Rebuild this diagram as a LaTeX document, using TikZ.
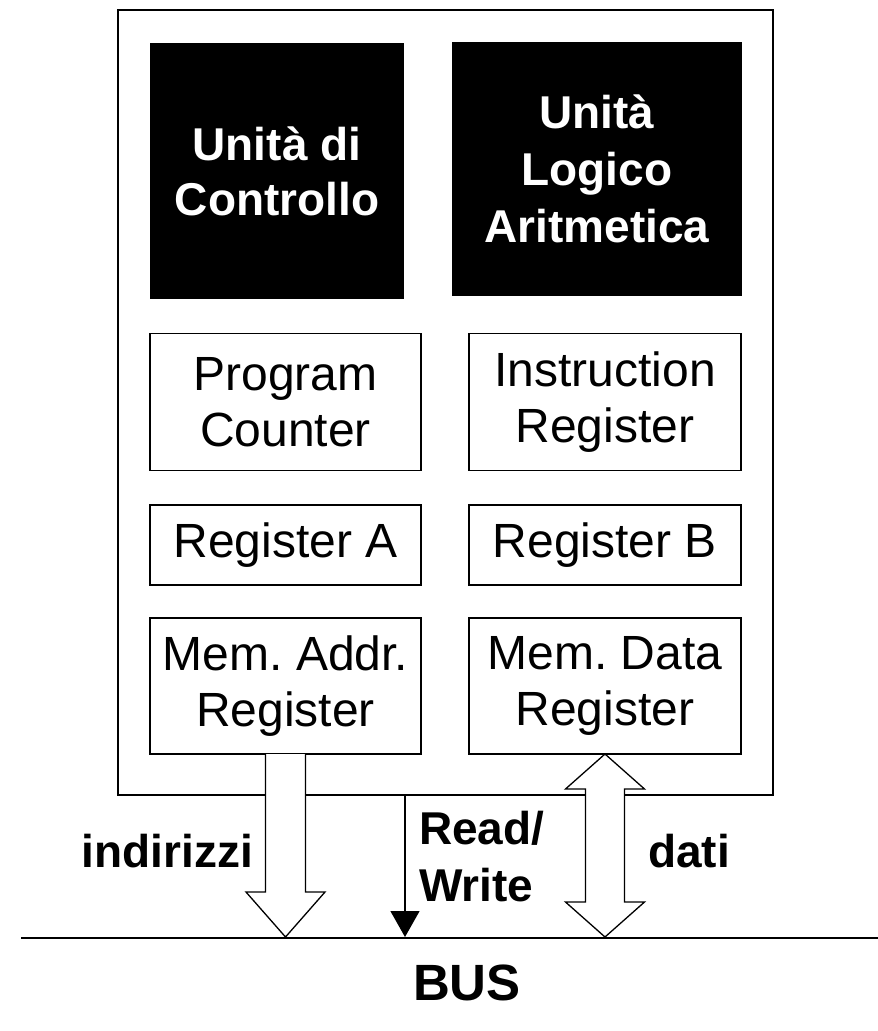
\documentclass[tikz,border=0pt]{standalone}
\usepackage{fontspec}
\setmainfont{Liberation Sans}
\usetikzlibrary{arrows.meta,calc}
\frenchspacing
\begin{document}
\begin{tikzpicture}[x=1pt,y=-1pt,
  every node/.style={inner sep=0pt, outer sep=0pt},
  lbl/.style={font=\frenchspacing\fontsize{48}{56}\selectfont, align=center},
  unitbox/.style={fill=black, text=white, font=\bfseries\fontsize{46}{57}\selectfont, align=center},
  regbox/.style={draw, line width=1.3pt, lbl},
  boldlbl/.style={font=\bfseries\fontsize{46}{57}\selectfont},
  blockarrow/.style={draw, fill=white, line width=1.3pt, line join=miter},
  thinline/.style={line width=1.3pt},
]
\useasboundingbox (0,0) rectangle (878,1031);
% CPU outline
\node[draw, thinline, minimum width=655pt, minimum height=785pt] (cpu) at (445.5,402.5) {};
% units
\node[unitbox, font=\bfseries\fontsize{46}{55}\selectfont, minimum width=254pt, minimum height=256pt] (cu) at (277,171) {Unità di\\Controllo};
\node[unitbox, minimum width=290pt, minimum height=254pt] (alu) at (597,169) {Unità\\Logico\\Aritmetica};
% registers
\node[regbox, minimum width=271pt, minimum height=137pt] (pc) at (285.5,402) {Program\\Counter};
\node[regbox, minimum width=272pt, minimum height=137pt] (ir) at (605,402) {Instruction\\Register};
\node[regbox, minimum width=271pt, minimum height=80pt] (ra) at (285.5,545) {Register A};
\node[regbox, minimum width=272pt, minimum height=80pt] (rb) at (605,545) {Register B};
\node[regbox, minimum width=271pt, minimum height=136pt] (mar) at (285.5,686) {Mem. Addr.\\Register};
\node[regbox, minimum width=272pt, minimum height=136pt] (mdr) at (605,686) {Mem. Data\\Register};
% bus
\coordinate (busL) at (21,938);
\coordinate (busR) at (878,938);
\draw[line width=2pt] (busL) -- (busR);
\node[font=\bfseries\fontsize{51}{60}\selectfont, anchor=base] (buslbl) at (467,1000) {BUS};
% address arrow
\path (mar.south) ++(0,183) coordinate (addrtip);
\filldraw[blockarrow] ($(mar.south)+(-20,0)$) -- ($(addrtip)+(-20,-45)$) -- ($(addrtip)+(-39.5,-45)$)
  -- (addrtip) -- ($(addrtip)+(39.5,-45)$) -- ($(addrtip)+(20,-45)$) -- ($(mar.south)+(20,0)$);
% data arrow
\path (mdr.south) ++(0,183) coordinate (datatip);
\filldraw[blockarrow] (mdr.south) -- ($(mdr.south)+(39.5,35)$) -- ($(mdr.south)+(19.5,35)$)
  -- ($(datatip)+(19.5,-35)$) -- ($(datatip)+(39.5,-35)$) -- (datatip)
  -- ($(datatip)+(-39.5,-35)$) -- ($(datatip)+(-19.5,-35)$)
  -- ($(mdr.south)+(-19.5,35)$) -- ($(mdr.south)+(-39.5,35)$) -- cycle;
% read/write
\coordinate (rwtop) at (405,795);
\coordinate (rwend) at (405,937);
\draw[thinline, -{Triangle[length=26pt, width=29pt]}] (rwtop) -- (rwend);
% labels
\node[boldlbl, anchor=base east] (ind) at (253,867) {indirizzi};
\node[boldlbl, anchor=base west] (dati) at (648,867) {dati};
\node[font=\bfseries\fontsize{46}{57}\selectfont, align=left, anchor=north west] (rw) at (419,811) {Read/\\Write};
\end{tikzpicture}
\end{document}
